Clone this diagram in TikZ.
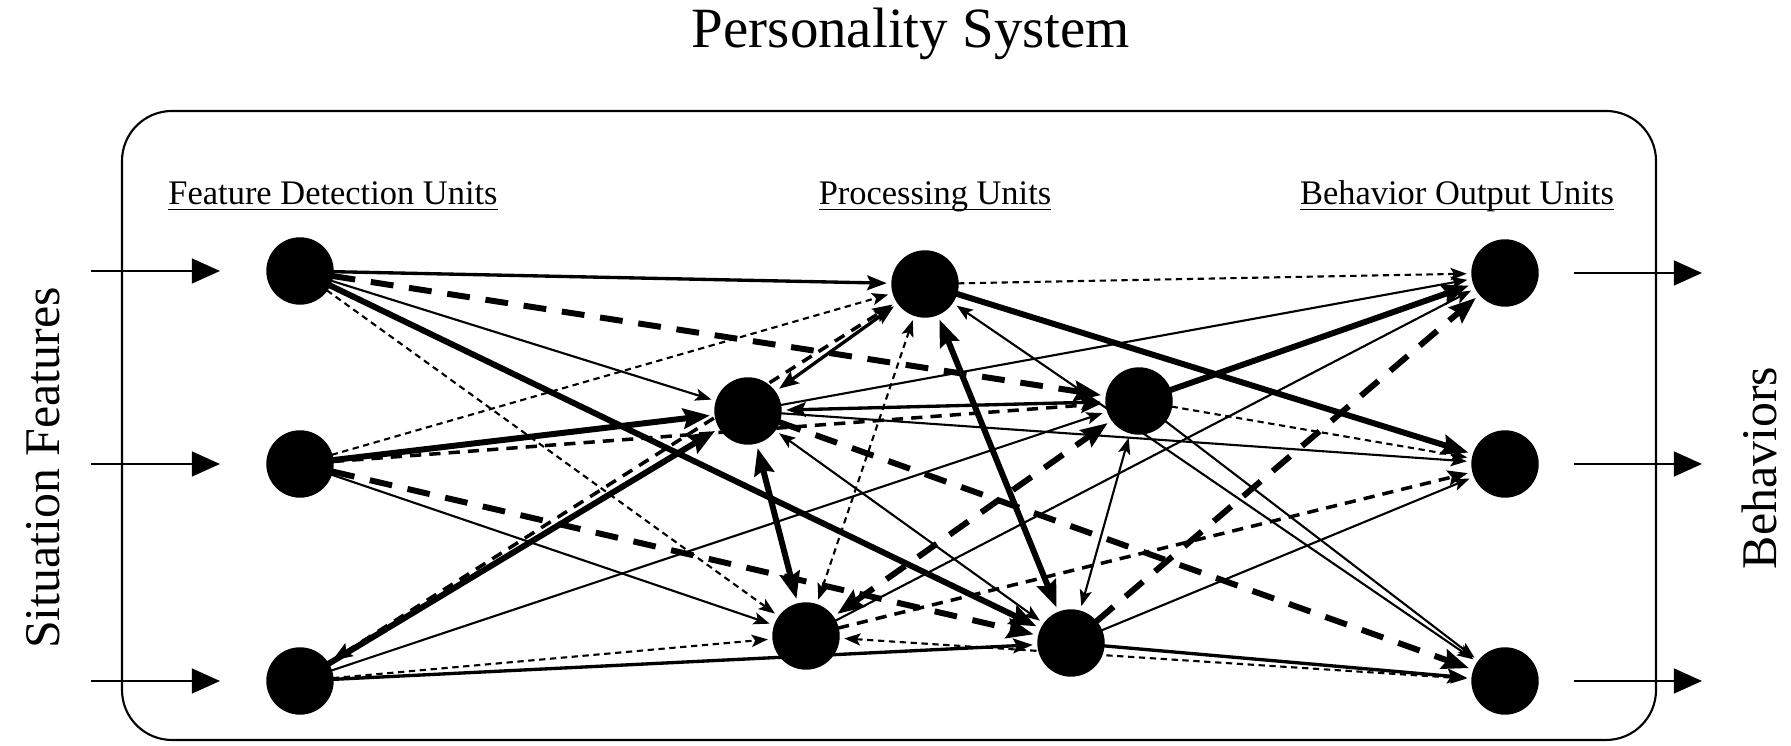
\documentclass[tikz,border=0pt]{standalone}
\usepackage{fontspec}
\setmainfont{Liberation Serif}
\usepackage{tikz,tkz-graph}
\usetikzlibrary{arrows.meta}
\tikzstyle{unitNode}=[shape = circle, minimum size = 0.66cm, inner sep = 0pt, draw, fill = black]
\tikzstyle{oneWay}=[-{Stealth[length = 3pt 2.7, inset = 1pt]}, shorten > = 1.5pt]
\tikzstyle{twoWay}=[{Stealth[length = 3pt 2.7, inset = 1pt]}-{Stealth[length = 3pt 2.7, inset = 1pt]}, shorten > = 1.5pt, shorten < = 1.5pt]

\begin{document}
\begin{tikzpicture}
\tikzstyle{VertexStyle} = []
\tikzstyle{EdgeStyle} = []
\tikzstyle{LabelStyle} = [draw = none, fill = none, inner sep = 0pt]
\tikzstyle{thickLine}=[line width = 1.7pt]
\tikzstyle{midLine}=[line width = 0.95pt]
\tikzstyle{thinLine}=[line width = 0.6pt]
\tikzstyle{thickDash}=[line width = 1.7pt, dash pattern = on 6.5pt off 4.5pt]
\tikzstyle{midDash}=[line width = 1pt, dash pattern = on 3.2pt off 2.3pt]
\tikzstyle{thinDash}=[line width = 0.6pt, dash pattern = on 1.8pt off 1.3pt]
\tikzstyle{inArrow}=[line width = 0.8pt, -{Triangle[length = 8pt, width = 7pt]}, shorten > = 0.47cm]
\tikzstyle{outArrow}=[line width = 0.8pt, -{Triangle[length = 8pt, width = 7pt]}, shorten < = 0.36cm]
\tikzstyle{headText}=[font = \fontsize{9.8pt}{12pt}\selectfont]
\tikzstyle{sideText}=[font = \fontsize{14.2pt}{17pt}\selectfont, rotate = 90]
\useasboundingbox (0,0) rectangle (17.91,7.46);
% frame and texts
\node[draw, line width = 0.6pt, rounded corners = 0.5cm, minimum width = 15.34cm, minimum height = 6.29cm] (system) at (8.89,3.205) {};
\node[font = \fontsize{16.2pt}{19pt}\selectfont] (title) at (9.11,7.12) {Personality System};
\node[headText] (fdu) at (3.33,5.38) {\underline{\smash{Feature Detection Units}}};
\node[headText] (pu) at (9.35,5.38) {\underline{\smash{Processing Units}}};
\node[headText] (bou) at (14.57,5.38) {\underline{\smash{Behavior Output Units}}};
\node[sideText] (situation) at (0.43,2.78) {Situation Features};
\node[sideText] (behaviors) at (17.59,2.78) {Behaviors};
% units
\Vertex[style = unitNode, x = 3.00, y = 4.75, NoLabel]{f1}
\Vertex[style = unitNode, x = 3.00, y = 2.82, NoLabel]{f2}
\Vertex[style = unitNode, x = 3.00, y = 0.65, NoLabel]{f3}
\Vertex[style = unitNode, x = 9.25, y = 4.62, NoLabel]{p1}
\Vertex[style = unitNode, x = 7.48, y = 3.35, NoLabel]{p2}
\Vertex[style = unitNode, x = 11.39, y = 3.45, NoLabel]{p3}
\Vertex[style = unitNode, x = 8.06, y = 1.10, NoLabel]{p4}
\Vertex[style = unitNode, x = 10.71, y = 1.03, NoLabel]{p5}
\Vertex[style = unitNode, x = 15.05, y = 4.73, NoLabel]{b1}
\Vertex[style = unitNode, x = 15.05, y = 2.82, NoLabel]{b2}
\Vertex[style = unitNode, x = 15.05, y = 0.65, NoLabel]{b3}
% situation in, behaviors out
\coordinate (s1) at (0.91,4.75);
\coordinate (s2) at (0.91,2.82);
\coordinate (s3) at (0.91,0.65);
\coordinate (o1) at (17.02,4.73);
\coordinate (o2) at (17.02,2.82);
\coordinate (o3) at (17.02,0.65);
\draw[inArrow] (s1) -- (f1);
\draw[inArrow] (s2) -- (f2);
\draw[inArrow] (s3) -- (f3);
\draw[outArrow] (b1) -- (o1);
\draw[outArrow] (b2) -- (o2);
\draw[outArrow] (b3) -- (o3);
% feature detection to processing
\Edge[style = {midLine, oneWay}](f1)(p1)
\Edge[style = {thickDash, oneWay}](f1)(p3)
\Edge[style = {thinLine, oneWay}](f1)(p2)
\Edge[style = {thickLine, oneWay}](f1)(p5)
\Edge[style = {thinDash, oneWay}](f1)(p4)
\Edge[style = {thinDash, oneWay}](f2)(p1)
\Edge[style = {thickLine, oneWay}](f2)(p2)
\Edge[style = {midDash, oneWay}](f2)(p3)
\Edge[style = {thickDash, oneWay}](f2)(p5)
\Edge[style = {thinLine, oneWay}](f2)(p4)
\Edge[style = {thickLine, oneWay}](f3)(p2)
\Edge[style = {midDash, twoWay}](f3)(p1)
\Edge[style = {thinLine, oneWay}](f3)(p3)
\Edge[style = {thinDash, oneWay}](f3)(p4)
\Edge[style = {midLine, oneWay}](f3)(p5)
% processing to processing
\Edge[style = {midLine, twoWay}](p1)(p2)
\Edge[style = {thinDash, twoWay}](p1)(p4)
\Edge[style = {thickLine, twoWay}](p1)(p5)
\Edge[style = {midLine, twoWay}](p2)(p3)
\Edge[style = {thickLine, twoWay}](p2)(p4)
\Edge[style = {thinLine, twoWay}](p2)(p5)
\Edge[style = {thickDash, twoWay}](p4)(p3)
\Edge[style = {thinLine, twoWay}](p3)(p5)
% processing to behavior output
\Edge[style = {thinDash, oneWay}](p1)(b1)
\Edge[style = {thickLine, oneWay}](p1)(b2)
\Edge[style = {thinLine, twoWay}](p1)(b3)
\Edge[style = {thinLine, oneWay}](p2)(b1)
\Edge[style = {thinLine, oneWay}](p2)(b2)
\Edge[style = {thickDash, oneWay}](p2)(b3)
\Edge[style = {thickLine, oneWay}](p3)(b1)
\Edge[style = {thinDash, oneWay}](p3)(b2)
\Edge[style = {thinLine, oneWay}](p3)(b3)
\Edge[style = {thinLine, oneWay}](p4)(b1)
\Edge[style = {midDash, oneWay}](p4)(b2)
\Edge[style = {thinDash, twoWay}](p4)(b3)
\Edge[style = {thickDash, oneWay}](p5)(b1)
\Edge[style = {thinLine, oneWay}](p5)(b2)
\Edge[style = {midLine, oneWay}](p5)(b3)
\end{tikzpicture}
\end{document}
